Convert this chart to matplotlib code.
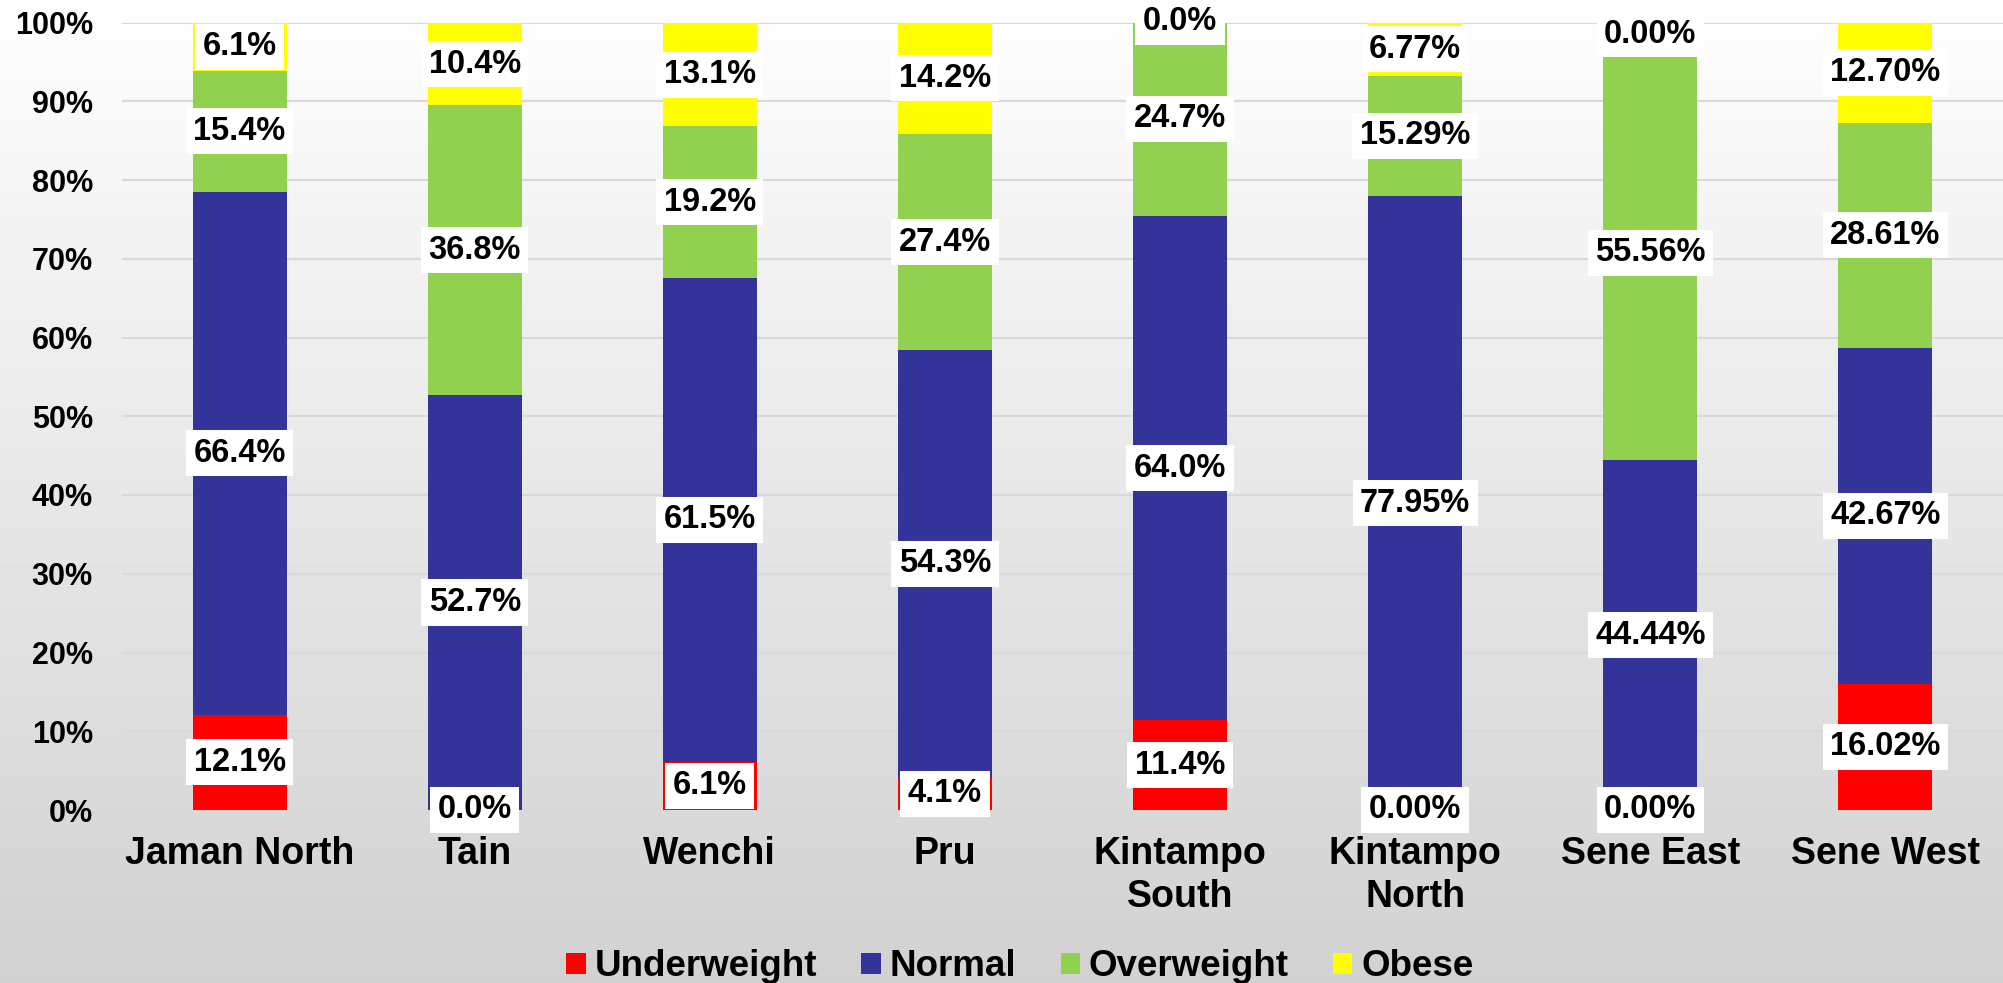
import numpy as np
import matplotlib
matplotlib.use("Agg")
import matplotlib.pyplot as plt

# data
districts = ["Jaman North", "Tain", "Wenchi", "Pru", "Kintampo\nSouth",
             "Kintampo\nNorth", "Sene East", "Sene West"]
series = ["Underweight", "Normal", "Overweight", "Obese"]
colors = ["#FF0000", "#333399", "#92D050", "#FFFF00"]

underweight = [12.1, 0.0, 6.1, 4.1, 11.4, 0.0, 0.0, 16.02]
normal = [66.4, 52.7, 61.5, 54.3, 64.0, 77.95, 44.44, 42.67]
overweight = [15.4, 36.8, 19.2, 27.4, 24.7, 15.29, 52.6, 28.61]
obese = [6.1, 10.4, 13.1, 14.2, 0.0, 6.77, 2.96, 12.70]

lbl_under = ["12.1%", "0.0%", "6.1%", "4.1%", "11.4%", "0.00%", "0.00%", "16.02%"]
lbl_normal = ["66.4%", "52.7%", "61.5%", "54.3%", "64.0%", "77.95%", "44.44%", "42.67%"]
lbl_over = ["15.4%", "36.8%", "19.2%", "27.4%", "24.7%", "15.29%", "55.56%", "28.61%"]
lbl_obese = ["6.1%", "10.4%", "13.1%", "14.2%", "0.0%", "6.77%", "0.00%", "12.70%"]

values = [underweight, normal, overweight, obese]
labels = [lbl_under, lbl_normal, lbl_over, lbl_obese]

plt.rcParams["font.family"] = ["Liberation Sans", "DejaVu Sans"]
plt.rcParams["font.weight"] = "bold"

fig = plt.figure(figsize=(20.03, 9.83), dpi=100)

# background gradient
bg = fig.add_axes([0, 0, 1, 1], zorder=-10)
grad = np.linspace(0.995, 0.82, 256).reshape(-1, 1)
bg.imshow(grad, cmap="gray", vmin=0, vmax=1, aspect="auto",
          extent=[0, 1, 0, 1], origin="upper")
bg.axis("off")

ax = fig.add_axes([122 / 2003, 173 / 983, 1 - 122 / 2003, 787.5 / 983])
ax.patch.set_alpha(0)

x = np.arange(len(districts))
bottom = np.zeros(len(districts))
for name, col, vals, lbls in zip(series, colors, values, labels):
    vals = np.array(vals)
    ax.bar(x, vals, 0.4, bottom=bottom, color=col, label=name, zorder=3)
    for xi, b, v, t in zip(x, bottom, vals, lbls):
        ax.text(xi, b + v / 2, t, ha="center", va="center", fontsize=23.5,
                fontweight="bold", zorder=5,
                bbox=dict(boxstyle="square,pad=0.23", fc="white", ec="none"))
    bottom += vals

ax.set_xlim(-0.5, 7.5)
ax.set_ylim(0, 100)
ax.set_yticks(np.arange(0, 101, 10))
ax.set_yticklabels([f"{v}%" for v in range(0, 101, 10)])
ax.set_xticks(x)
ax.set_xticklabels(districts, linespacing=1.22)
ax.tick_params(axis="y", length=0, pad=21, labelsize=22)
ax.tick_params(axis="x", length=0, pad=19, labelsize=27)
for lab in ax.get_xticklabels() + ax.get_yticklabels():
    lab.set_fontweight("bold")
ax.grid(axis="y", color="#d9d9d9", linewidth=1.5, zorder=0)
ax.set_axisbelow(True)
for s in ax.spines.values():
    s.set_visible(False)

fig.legend(loc="center", bbox_to_anchor=(1020 / 2003, 1 - 967 / 983), ncol=4,
           frameon=False, fontsize=26.5, handlelength=0.52, handleheight=0.52,
           handletextpad=0.25, columnspacing=1.2, borderpad=0)

fig.savefig("out.png", dpi=100)
